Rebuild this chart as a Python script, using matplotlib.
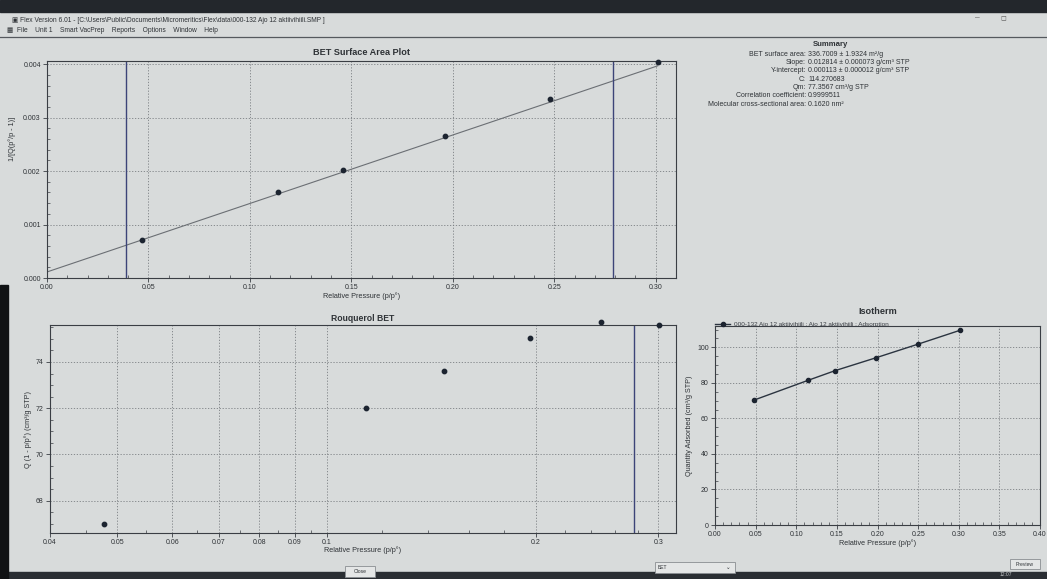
import numpy as np
import matplotlib
matplotlib.use("Agg")
import matplotlib.pyplot as plt
from matplotlib.patches import Rectangle
from matplotlib.ticker import FixedLocator, MultipleLocator, NullFormatter

plt.rcParams['font.family'] = ['Liberation Sans', 'DejaVu Sans']

# ---------------- data ----------------
# BET surface area plot
bet_p = [0.047, 0.114, 0.146, 0.196, 0.248, 0.301]
bet_y = [0.000715, 0.00160, 0.00202, 0.00266, 0.00334, 0.00405]
bet_slope = 0.012814
bet_intercept = 0.000113
bet_limits = [0.039, 0.279]          # selection bars

# Rouquerol BET
rq_p = [0.0478, 0.1138, 0.1473, 0.196, 0.248, 0.301]
rq_y = [67.0, 72.0, 73.6, 75.05, 75.75, 75.6]
rq_limit = 0.277
rq_ticks = [0.04, 0.05, 0.06, 0.07, 0.08, 0.09, 0.1, 0.2, 0.3]
rq_ticklabels = ['0.04', '0.05', '0.06', '0.07', '0.08', '0.09', '0.1', '0.2', '0.3']
rq_minor = [0.045, 0.055, 0.065, 0.075, 0.085, 0.095,
            0.12, 0.14, 0.16, 0.18, 0.22, 0.24, 0.26, 0.28]

# Isotherm
iso_p = [0.048, 0.115, 0.148, 0.198, 0.250, 0.301]
iso_q = [70.3, 81.5, 86.9, 94.1, 101.8, 109.5]
iso_label = '000-132 Ajo 12 aktiivihiili : Ajo 12 aktiivihiili : Adsorption'

summary_keys = ['BET surface area:', 'Slope:', 'Y-intercept:', 'C:', 'Qm:',
                'Correlation coefficient:', 'Molecular cross-sectional area:']
summary_vals = ['336.7009 ± 1.9324 m²/g', '0.012814 ± 0.000073 g/cm³ STP',
                '0.000113 ± 0.000012 g/cm³ STP', '114.270683', '77.3567 cm³/g STP',
                '0.9999511', '0.1620 nm²']

# ---------------- style ----------------
W, H = 1047, 579
BG = '#d8dbdb'
TXT = '#2e3236'
MK = '#1c2430'
BAR = '#3c4478'
GRID = '#7a7e82'

fig = plt.figure(figsize=(W / 100, H / 100), dpi=100, facecolor=BG)


def fx(px):
    return px / W


def fy(py):
    return 1 - py / H


def make_axes(l, t, r, b):
    ax = fig.add_axes([fx(l), fy(b), fx(r - l), (b - t) / H])
    ax.set_facecolor(BG)
    for s in ax.spines.values():
        s.set_color('#3a3e44')
        s.set_linewidth(0.8)
    ax.tick_params(which='major', direction='out', length=3, width=0.6,
                   labelsize=5.0, colors='#3a3e44', labelcolor=TXT, pad=1.5)
    ax.tick_params(which='minor', direction='in', length=2, width=0.5, colors='#3a3e44')
    ax.grid(True, which='major', linestyle=(0, (1.5, 2)), color=GRID, linewidth=0.6)
    ax.set_axisbelow(True)
    return ax


# window chrome
fig.patches.append(Rectangle((0, fy(12)), 1, 12 / H, transform=fig.transFigure,
                             color='#23272c', zorder=0))
fig.patches.append(Rectangle((0, 0), 1, 7 / H, transform=fig.transFigure,
                             color='#2a2e33', zorder=0))
fig.patches.append(Rectangle((0, 0), 8 / W, fy(285), transform=fig.transFigure,
                             color='#101214', zorder=0))
fig.lines.append(plt.Line2D([0, 1], [fy(37), fy(37)], transform=fig.transFigure,
                            color='#55595e', linewidth=0.9))
fig.text(fx(12), fy(20), '▣ Flex Version 6.01 - [C:\\Users\\Public\\Documents\\Micromeritics\\Flex\\data\\000-132 Ajo 12 aktiivihiili.SMP ]',
         fontsize=4.8, color=TXT, va='center')
fig.text(fx(7), fy(31), '▦  File    Unit 1    Smart VacPrep    Reports    Options    Window    Help',
         fontsize=4.8, color=TXT, va='center')
fig.text(fx(975), fy(18), '–', fontsize=6, color='#555', va='center')
fig.text(fx(1000), fy(18), '◻', fontsize=5, color='#555', va='center')
fig.text(fx(1000), fy(575), '12:07', fontsize=3.6, color='#c8cacc', va='center')

# ---------------- BET surface area plot ----------------
ax1 = make_axes(47, 61, 676, 278)
ax1.set_xlim(0, 0.31)
ax1.set_ylim(0, 0.00406)
ax1.xaxis.set_major_locator(MultipleLocator(0.05))
ax1.xaxis.set_minor_locator(MultipleLocator(0.01))
ax1.yaxis.set_major_locator(MultipleLocator(0.001))
ax1.yaxis.set_minor_locator(MultipleLocator(0.0002))
ax1.xaxis.set_major_formatter(lambda v, p: f'{v:.2f}')
ax1.yaxis.set_major_formatter(lambda v, p: f'{v:.3f}')
xf = np.array([0.0, bet_p[-1]])
ax1.plot(xf, bet_intercept + bet_slope * xf, color='#6b6f74', linewidth=0.8)
ax1.scatter(bet_p, bet_y, s=10, color=MK, zorder=3, clip_on=False)
for xv in bet_limits:
    ax1.axvline(xv, color=BAR, linewidth=1.0)
ax1.set_title('BET Surface Area Plot', fontsize=6.6, fontweight='bold', color=TXT, pad=4)
ax1.set_xlabel('Relative Pressure (p/p°)', fontsize=5.2, color=TXT, labelpad=1)
ax1.set_ylabel('1/[Q(p°/p - 1)]', fontsize=5.2, color=TXT, labelpad=4)
ax1.yaxis.set_label_coords(-0.05, 0.64)

# ---------------- Rouquerol BET ----------------
ax2 = make_axes(50, 325, 676, 533)
ax2.set_xscale('log')
ax2.set_xlim(0.04, 0.318)
ax2.set_ylim(66.6, 75.6)
ax2.xaxis.set_major_locator(FixedLocator(rq_ticks))
ax2.set_xticklabels(rq_ticklabels)
ax2.xaxis.set_minor_locator(FixedLocator(rq_minor))
ax2.xaxis.set_minor_formatter(NullFormatter())
ax2.yaxis.set_major_locator(MultipleLocator(2))
ax2.yaxis.set_minor_locator(MultipleLocator(0.5))
ax2.scatter(rq_p, rq_y, s=10, color=MK, zorder=3, clip_on=False)
ax2.axvline(rq_limit, color=BAR, linewidth=1.0)
ax2.set_title('Rouquerol BET', fontsize=6.2, fontweight='bold', color=TXT, pad=3)
ax2.set_xlabel('Relative Pressure (p/p°)', fontsize=5.2, color=TXT, labelpad=0)
ax2.set_ylabel('Q (1 - p/p°) (cm³/g STP)', fontsize=5.2, color=TXT, labelpad=3)

# ---------------- Isotherm ----------------
ax3 = make_axes(715, 326, 1040, 525)
ax3.set_xlim(0, 0.40)
ax3.set_ylim(0, 112)
ax3.xaxis.set_major_locator(MultipleLocator(0.05))
ax3.xaxis.set_minor_locator(MultipleLocator(0.01))
ax3.xaxis.set_major_formatter(lambda v, p: f'{v:.2f}')
ax3.yaxis.set_major_locator(MultipleLocator(20))
ax3.yaxis.set_minor_locator(MultipleLocator(5))
ax3.plot(iso_p, iso_q, color='#2b3440', linewidth=1.0, marker='o', markersize=3,
         markerfacecolor=MK, markeredgecolor=MK, label=iso_label)
ax3.set_title('Isotherm', fontsize=6.6, fontweight='bold', color=TXT, pad=9)
ax3.set_xlabel('Relative Pressure (p/p°)', fontsize=5.2, color=TXT, labelpad=1)
ax3.set_ylabel('Quantity Adsorbed (cm³/g STP)', fontsize=5.2, color=TXT, labelpad=3)
leg = ax3.legend(loc='lower left', bbox_to_anchor=(0.0, 0.995), frameon=False,
                 fontsize=4.6, handlelength=2.4, handletextpad=0.6, borderpad=0,
                 borderaxespad=0)
for t in leg.get_texts():
    t.set_color('#3a3e44')

# ---------------- Summary ----------------
fig.text(fx(830), fy(45), 'Summary', fontsize=5.6, fontweight='bold', color=TXT,
         ha='center', va='center')
for i, (k, v) in enumerate(zip(summary_keys, summary_vals)):
    yy = fy(54.3 + i * 8.3)
    fig.text(fx(806), yy, k, fontsize=5.0, color=TXT, ha='right', va='center')
    fig.text(fx(808), yy, v, fontsize=5.0, color=TXT, ha='left', va='center')

# ---------------- bottom buttons ----------------
def button(l, t, r, b, label, ha='center'):
    fig.patches.append(Rectangle((fx(l), fy(b)), fx(r - l), (b - t) / H,
                                 transform=fig.transFigure, facecolor='#e4e6e6',
                                 edgecolor='#8a8e92', linewidth=0.6))
    xx = fx((l + r) / 2) if ha == 'center' else fx(l + 3)
    fig.text(xx, fy((t + b) / 2), label, fontsize=3.6, color=TXT, ha=ha, va='center')

button(345, 566, 375, 577, 'Close')
button(655, 562, 735, 573, 'BET', ha='left')
button(1010, 559, 1040, 569, 'Preview')
fig.text(fx(728), fy(567.5), '⌄', fontsize=4, color=TXT, ha='center', va='center')

fig.savefig('out.png', dpi=100, facecolor=fig.get_facecolor())
